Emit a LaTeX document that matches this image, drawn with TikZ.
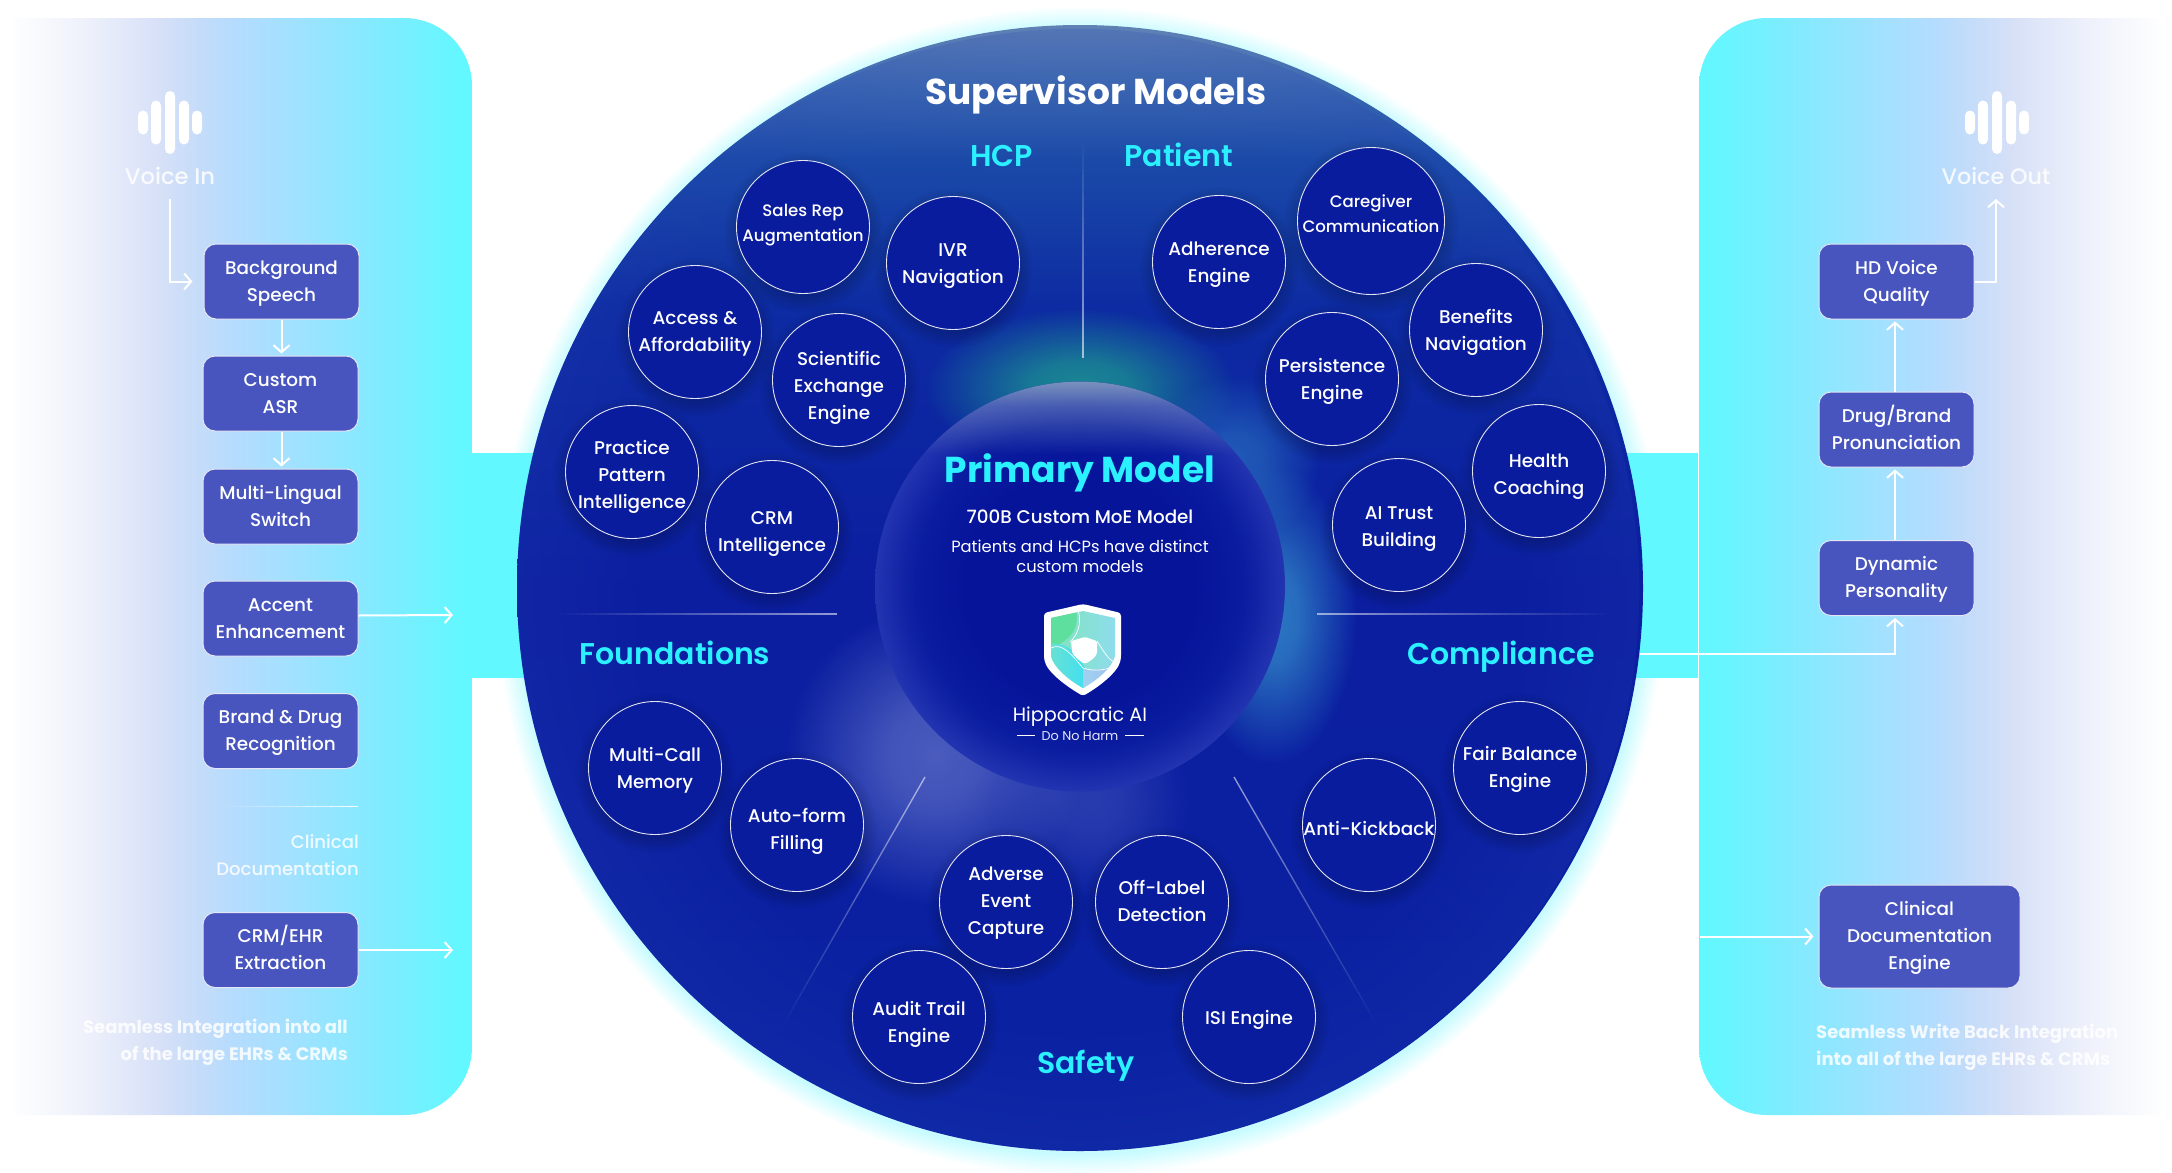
\documentclass[tikz,border=0pt]{standalone}
\usepackage{fontspec}
\setmainfont{Poppins}
\newfontfamily\pmed{Poppins Medium}
\newfontfamily\psemi{Poppins SemiBold}
\usetikzlibrary{arrows.meta,fadings,calc}
\newcommand\fsz[2]{\fontsize{#1}{#2}\selectfont}
\newcommand\LL{\\\strut}
\newcommand\TT{\rule{0pt}{20.3pt}}
% colours
\definecolor{boxfill}{HTML}{4855BE}
\definecolor{discfill}{HTML}{0A1C9E}
\definecolor{cyanhead}{HTML}{2BF0FF}
\definecolor{barcyan}{HTML}{62F8FF}
\definecolor{pa}{HTML}{FFFFFF}\definecolor{pb}{HTML}{EEF1FB}\definecolor{pc}{HTML}{D6E0F7}
\definecolor{pd}{HTML}{C4DCF9}\definecolor{pe}{HTML}{B3DCFE}\definecolor{pf}{HTML}{A2E1FF}
\definecolor{pg}{HTML}{80EBFF}\definecolor{ph}{HTML}{66F6FF}
\definecolor{oa}{HTML}{6082B5}\definecolor{ob}{HTML}{3F6BB2}\definecolor{oc}{HTML}{1A4AA8}
\definecolor{od}{HTML}{0D2BA2}\definecolor{oe}{HTML}{0B1EA0}\definecolor{of}{HTML}{0A22A2}
\definecolor{ia}{HTML}{06149A}\definecolor{ib}{HTML}{0A1CA0}\definecolor{ic}{HTML}{2234B0}
\definecolor{glowa}{HTML}{C8FBFF}
\definecolor{HaloT}{HTML}{1FA88F}\definecolor{HaloB}{HTML}{3590CC}\definecolor{HaloL}{HTML}{6070C8}
\definecolor{InnerTop}{HTML}{7A93BD}\definecolor{RimC}{HTML}{2A45B8}
\definecolor{ShA}{HTML}{7FE5B5}\definecolor{ShB}{HTML}{8FDCF0}\definecolor{ShC}{HTML}{5FDF9E}
\definecolor{ShD}{HTML}{70E0D0}\definecolor{ShE}{HTML}{40E0F0}\definecolor{ShF}{HTML}{A0D0F0}\definecolor{ShG}{HTML}{A0C0EE}
% shadings
\pgfdeclarehorizontalshading{panelshade}{100bp}{color(0bp)=(pa); color(25.8bp)=(pa); color(34bp)=(pb);
  color(42bp)=(pc); color(46.2bp)=(pd); color(50.4bp)=(pe); color(55.7bp)=(pf); color(65.3bp)=(pg);
  color(72.7bp)=(ph); color(75bp)=(barcyan); color(100bp)=(barcyan)}
\pgfdeclareverticalshading{outerv}{100bp}{color(0bp)=(of); color(25bp)=(of); color(50bp)=(oe);
  color(62.5bp)=(od); color(69bp)=(oc); color(72.5bp)=(ob); color(75bp)=(oa); color(100bp)=(oa)}
\pgfdeclareradialshading{glowshade}{\pgfpoint{0bp}{0bp}}{color(0bp)=(glowa); color(24.06bp)=(glowa);
  color(25bp)=(white); color(50bp)=(white)}
\pgfdeclareradialshading{innershade}{\pgfpoint{0bp}{0bp}}{color(0bp)=(ia); color(14bp)=(ia);
  color(20bp)=(ib); color(25bp)=(ic); color(50bp)=(ic)}
% fadings
\pgfdeclareradialshading{softdiscshade}{\pgfpoint{0bp}{0bp}}{color(0bp)=(pgftransparent!0);
  color(20bp)=(pgftransparent!0); color(25bp)=(pgftransparent!100); color(50bp)=(pgftransparent!100)}
\pgfdeclarefading{softdisc}{\pgfuseshading{softdiscshade}}
\pgfdeclareradialshading{haloshade}{\pgfpoint{0bp}{0bp}}{color(0bp)=(pgftransparent!0);
  color(8bp)=(pgftransparent!15); color(25bp)=(pgftransparent!100); color(50bp)=(pgftransparent!100)}
\pgfdeclarefading{halofade}{\pgfuseshading{haloshade}}
\pgfdeclareverticalshading{topshade}{100bp}{color(0bp)=(pgftransparent!100); color(66bp)=(pgftransparent!100);
  color(72bp)=(pgftransparent!50); color(75bp)=(pgftransparent!0); color(100bp)=(pgftransparent!0)}
\pgfdeclarefading{topfade}{\pgfuseshading{topshade}}
\pgfdeclareradialshading{rimshade}{\pgfpoint{0bp}{0bp}}{color(0bp)=(pgftransparent!100);
  color(19bp)=(pgftransparent!100); color(25bp)=(pgftransparent!65); color(50bp)=(pgftransparent!65)}
\pgfdeclarefading{rimfade}{\pgfuseshading{rimshade}}
\tikzset{
  stext/.style={execute at begin node=\strut},
  boxn/.style={draw=white!85!boxfill,line width=1pt,fill=boxfill,rounded corners=12pt,minimum width=155pt,
    minimum height=75pt,inner sep=0pt,align=center,text=white,font=\pmed\fsz{18.4}{27}},
  cdisc/.style={circle,draw=white!88!discfill,line width=.9pt,fill=discfill,minimum size=133pt,inner sep=0pt},
  ctext/.style={stext,inner sep=0pt,align=center,text=white,font=\pmed\fsz{18.4}{27}},
  csmall/.style={font=\pmed\fsz{16.6}{25}},
  head/.style={stext,text=cyanhead,inner sep=0pt,font=\psemi\fsz{30}{41}},
  flow/.style={draw=white,line width=2pt,-{Straight Barb[length=7pt,width=16pt,line width=2pt]}},
  paneltext/.style={stext,text=white,text opacity=.85,inner sep=0pt},
  bodytext/.style={stext,text=white,inner sep=0pt,align=center},
}
% a line which fades out from its first end to its second
\newcommand\fadeline[3]{%
  \foreach \k in {1,...,40}{%
    \pgfmathsetmacro\ka{(\k-1)/40}\pgfmathsetmacro\kb{\k/40}\pgfmathsetmacro\ko{#3*(1-\ka)}%
    \draw[white,line width=1.4pt,opacity=\ko] ($#1!\ka!#2$) -- ($#1!\kb!#2$);
  }}
% a sound-wave icon
\newcommand\waveicon[2]{%
  \begin{scope}[shift={(#1,#2)}]
    \fill[white,rounded corners=5pt] (-32,-12) rectangle (-22,12);
    \fill[white,rounded corners=5pt] (-19,-22) rectangle (-9,22);
    \fill[white,rounded corners=5pt] (-5,-31.5) rectangle (5,31.5);
    \fill[white,rounded corners=5pt] (9,-22) rectangle (19,22);
    \fill[white,rounded corners=5pt] (22,-12) rectangle (32,12);
  \end{scope}}
% a circle with its soft shadow and its text: [text options]{name}{x}{y}{text shift}{text}
\newcommand\cnodeat[6][]{%
  \fill[black,opacity=.18,path fading=softdisc] (#3,#4+5) circle (80);
  \node[cdisc] (#2) at (#3,#4) {};
  \node[ctext,#1] (#2-t) at (#3,#4+#5+3.5) {#6};}
\begin{document}
\begin{tikzpicture}[x=1pt,y=-1pt]
\useasboundingbox (0,0) rectangle (2172,1173);
\fill[white] (0,0) rectangle (2172,1173);
% glow
\shade[shading=glowshade] (1080,591) circle (585);
% panels and bars
\shade[shading=panelshade] (0,18) -- (404,18) .. controls (441.6,18) and (472,48.4) .. (472,86) -- (472,1047)
  .. controls (472,1084.6) and (441.6,1115) .. (404,1115) -- (0,1115) -- cycle;
\shade[shading=panelshade,shading angle=180] (2172,18) -- (1767,18) .. controls (1729.4,18) and (1699,48.4) .. (1699,86) -- (1699,1047)
  .. controls (1699,1084.6) and (1729.4,1115) .. (1767,1115) -- (2172,1115) -- cycle;
\fill[barcyan] (470,453) rectangle (560,678);
\fill[barcyan] (1600,453) rectangle (1698,678);
\draw[white,line width=1pt] (1698.5,453) -- (1698.5,678);
% main disc
\begin{scope}
  \clip (1080,588) circle (563);
  \shade[shading=outerv] (1080,588) circle (563);
  \fill[RimC,opacity=.55,path fading=rimfade] (1080,588) circle (563);
  \fill[HaloT,opacity=.75,path fading=halofade] (1080,388) ellipse (155 and 80);
  \fill[HaloB,opacity=.5,path fading=halofade] (1235,460) circle (85);
  \fill[HaloB,opacity=.8,path fading=halofade] (1272,615) ellipse (85 and 150);
  \fill[HaloL,opacity=.75,path fading=halofade] (935,755) circle (150);
  \fill[HaloL,opacity=.35,path fading=halofade] (1090,800) circle (100);
\end{scope}
% inner disc
\shade[shading=innershade] (1080,586.5) circle (205);
\fill[InnerTop,path fading=topfade] (1080,586.5) circle (205);
% dividers
\fadeline{(1083,358)}{(1083,142)}{.6}
\fadeline{(837,614)}{(560,614)}{.55}
\fadeline{(1317,614)}{(1610,614)}{.55}
\fadeline{(925,777)}{(782,1027)}{.55}
\fadeline{(1234,777)}{(1377,1025)}{.55}
\fadeline{(358,806.5)}{(219,806.5)}{.9}
% headings
\node[bodytext,font=\bfseries\fsz{36}{48}] (sup) at (1096,95) {Supervisor Models};
\node[head] (hcp) at (1001.5,158) {HCP};
\node[head] (pat) at (1179,158) {Patient};
\node[head] (fou) at (675,656.5) {Foundations};
\node[head] (com) at (1501,656.5) {Compliance};
\node[head] (saf) at (1086,1065) {Safety};
% HCP circles
\cnodeat[csmall]{srep}{803}{227}{-4}{Sales Rep\LL Augmentation}
\cnodeat{ivr}{953}{263}{1}{IVR\LL Navigation}
\cnodeat{acc}{695}{332}{0}{Access \&\LL Affordability}
\cnodeat{sci}{839}{380}{6}{Scientific\LL Exchange\LL Engine}
\cnodeat{ppi}{632}{472}{3}{Practice\LL Pattern\LL Intelligence}
\cnodeat{crmi}{772}{527}{5}{CRM\LL Intelligence}
% Patient circles
\cnodeat{adh}{1219}{262}{1}{Adherence\LL Engine}
\fill[black,opacity=.18,path fading=softdisc] (1371,226) circle (88);
\node[cdisc,minimum size=147pt] (care) at (1371,221) {};
\node[ctext,csmall] (care-t) at (1371,217.5) {Caregiver\LL Communication};
\cnodeat{ben}{1476}{330}{0}{Benefits\LL Navigation}
\cnodeat{per}{1332}{379}{0}{Persistence\LL Engine}
\cnodeat{hea}{1539}{471}{4}{Health\LL Coaching}
\cnodeat{ait}{1399}{525}{2}{AI Trust\LL Building}
% Foundations circles
\cnodeat{mcm}{655}{768}{0}{Multi-Call\LL Memory}
\cnodeat{auto}{797}{825}{4}{Auto-form\LL Filling}
% Safety circles
\cnodeat{adv}{1006}{902}{-1}{Adverse\LL Event\LL Capture}
\cnodeat{aud}{919}{1017}{5}{Audit Trail\LL Engine}
\cnodeat{off}{1162}{902}{-1}{Off-Label\LL Detection}
\cnodeat{isi}{1249}{1017}{-1}{ISI Engine}
% Compliance circles
\cnodeat{kick}{1369}{825}{2}{Anti-Kickback}
\cnodeat{fair}{1520}{768}{-1}{Fair Balance\LL Engine}
% primary model
\node[stext,text=cyanhead,inner sep=0pt,font=\bfseries\fsz{36}{50}] (prim) at (1080,472.5) {Primary Model};
\node[bodytext,font=\pmed\fsz{18.3}{25}] (moe) at (1080,518) {700B Custom MoE Model};
\node[bodytext,font=\fsz{16.3}{20}] (dist) at (1080,559) {Patients and HCPs have distinct\LL custom models};
% shield
\fill[white,rounded corners=3pt] (1083,604) -- (1121,613) -- (1121,658) .. controls (1118,672) and (1100,686) .. (1083,696)
  .. controls (1066,686) and (1047,672) .. (1044,658) -- (1044,613) -- cycle;
\begin{scope}
  \clip (1083,611) -- (1115,618) -- (1115,656) .. controls (1112,668) and (1097,680) .. (1083,688)
    .. controls (1069,680) and (1054,668) .. (1051,656) -- (1051,618) -- cycle;
  \shade[left color=ShA,right color=ShB] (1045,605) rectangle (1120,690);
  \fill[ShC] (1045,605) -- (1075,605) .. controls (1080,625) and (1076,640) .. (1045,650) -- cycle;
  \shade[left color=ShD,right color=ShE] (1045,645) .. controls (1065,640) and (1075,650) .. (1085,668)
     -- (1085,695) -- (1045,695) -- cycle;
  \shade[left color=ShF,right color=ShG] (1083,668) .. controls (1095,672) and (1105,668) .. (1120,665)
     -- (1120,695) -- (1083,695) -- cycle;
  \draw[white,line width=.7pt] (1078,610) .. controls (1082,622) and (1078,635) .. (1070,642);
  \draw[white,line width=.7pt] (1051,648) .. controls (1062,642) and (1072,655) .. (1083,668) .. controls (1095,672) and (1108,670) .. (1115,665);
  \draw[white,line width=.7pt] (1097,641) .. controls (1103,650) and (1108,660) .. (1115,662);
\end{scope}
\fill[white,rounded corners=1.5pt] (1085,637) -- (1097,641) -- (1097,653) .. controls (1095,658) and (1090,661) .. (1085,664)
  .. controls (1080,661) and (1073,656) .. (1072,651) -- (1071,641) -- cycle;
\node[bodytext,font=\fsz{19.2}{26}] (hip) at (1080,716) {Hippocratic AI};
\node[bodytext,text=white!90!blue,font=\fsz{12.8}{17}] (dnh) at (1080,737) {Do No Harm};
\draw[white,line width=1pt] (1017,735) -- (1035,735);
\draw[white,line width=1pt] (1125,735) -- (1144,735);
% left panel
\waveicon{170}{122.5}
\node[paneltext,font=\pmed\fsz{22.6}{31}] (vin) at (170,178.5) {Voice In};
\node[boxn] (bg) at (281.5,281.5) {\TT Background\LL Speech};
\node[boxn] (asr) at (280.5,393.5) {\TT Custom\LL ASR};
\node[boxn] (mls) at (280.5,506.5) {\TT Multi-Lingual\LL Switch};
\node[boxn] (accn) at (280.5,618.5) {\TT Accent\LL Enhancement};
\node[boxn] (brd) at (280.5,731) {\TT Brand \& Drug\LL Recognition};
\node[paneltext,anchor=east,align=right,font=\pmed\fsz{18.1}{27}] (cld) at (359,859.5) {Clinical\LL Documentation};
\node[boxn] (crm) at (280.5,950) {\TT CRM/EHR\LL Extraction};
\node[paneltext,anchor=east,align=right,font=\bfseries\fsz{18}{27}] (sint) at (348,1044) {Seamless Integration into all\LL of the large EHRs \& CRMs};
\coordinate (vinstart) at (170,199);
\coordinate (aout) at (453,615);
\coordinate (cout) at (453,950);
\draw[flow,shorten >=11pt] (vinstart) |- (bg.west);
\draw[flow,shorten >=2pt] (bg.south) -- (bg.south |- asr.north);
\draw[flow,shorten >=2pt] (bg.south |- asr.south) -- (bg.south |- mls.north);
\draw[flow] ([yshift=3pt]accn.east) -- (aout);
\draw[flow] (crm.east) -- (cout);
% right panel
\waveicon{1997}{122.5}
\node[paneltext,font=\pmed\fsz{22.3}{31}] (vout) at (1996,178.5) {Voice Out};
\node[boxn] (hd) at (1896.5,281.5) {\TT HD Voice\LL Quality};
\node[boxn] (drg) at (1896.5,429.5) {\TT Drug/Brand\LL Pronunciation};
\node[boxn] (dyn) at (1896.5,578) {\TT Dynamic\LL Personality};
\node[boxn,minimum width=201pt,minimum height=103pt] (cde) at (1919.5,936.5) {\TT Clinical\LL Documentation\LL Engine};
\node[paneltext,anchor=west,align=left,font=\bfseries\fsz{18}{27}] (swb) at (1816,1048.5) {Seamless Write Back Integration\LL into all of the large EHRs \& CRMs};
\coordinate (cfrom) at (1700,936.5);
\coordinate (dfrom) at (1640,654);
\coordinate (voutend) at (1996,199);
\draw[flow,shorten >=2pt] ([xshift=-1.5pt]dyn.north) -- ([xshift=-1.5pt]drg.south);
\draw[flow,shorten >=2pt] ([xshift=-1.5pt]drg.north) -- ([xshift=-1.5pt]hd.south);
\draw[flow] (hd.east) -| (voutend);
\draw[flow,shorten >=2pt] (dfrom) -| ([xshift=-1.5pt]dyn.south);
\draw[flow,shorten >=5pt] (cfrom) -- (cde.west);
\end{tikzpicture}
\end{document}
